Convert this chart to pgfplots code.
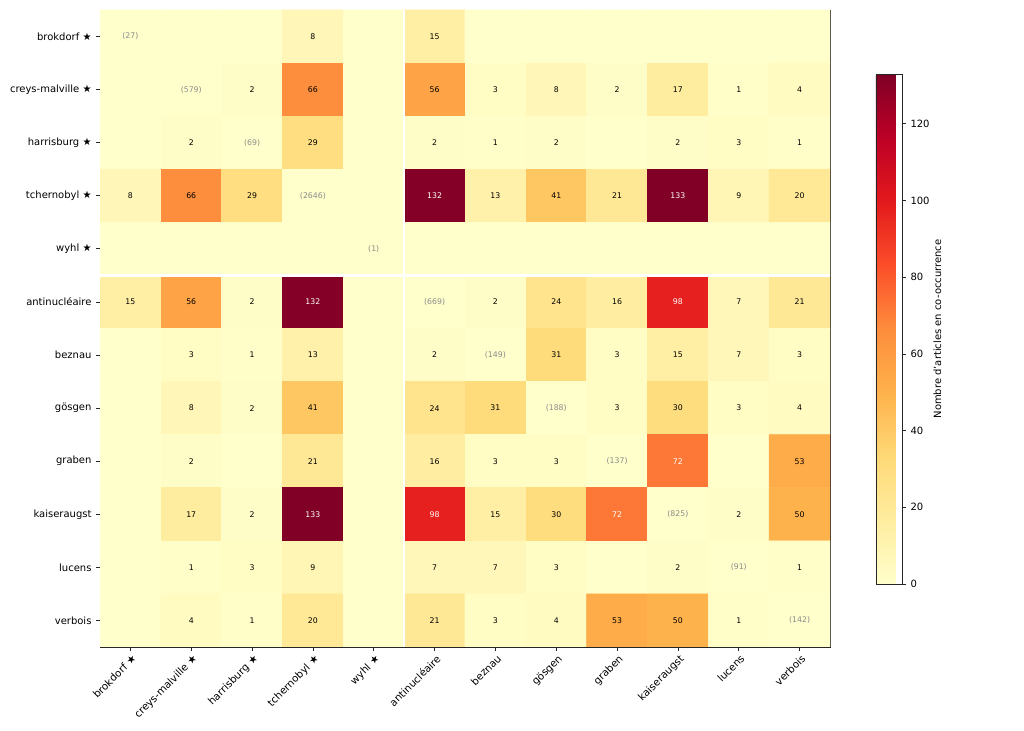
\documentclass[border=0pt]{standalone}
\usepackage{fontspec}
\setmainfont{DejaVu Sans}
\usepackage{pgfplots}
\usepackage{pgfplotstable}
\pgfplotsset{compat=1.18}

% Co-occurrence counts (diagonal cells hold 0 for the colour; their totals go in the grey labels)
\pgfplotstableread[row sep=\\]{
x y v\\
0 0 0\\ 1 0 0\\ 2 0 0\\ 3 0 8\\ 4 0 0\\ 5 0 15\\ 6 0 0\\ 7 0 0\\ 8 0 0\\ 9 0 0\\ 10 0 0\\ 11 0 0\\
0 1 0\\ 1 1 0\\ 2 1 2\\ 3 1 66\\ 4 1 0\\ 5 1 56\\ 6 1 3\\ 7 1 8\\ 8 1 2\\ 9 1 17\\ 10 1 1\\ 11 1 4\\
0 2 0\\ 1 2 2\\ 2 2 0\\ 3 2 29\\ 4 2 0\\ 5 2 2\\ 6 2 1\\ 7 2 2\\ 8 2 0\\ 9 2 2\\ 10 2 3\\ 11 2 1\\
0 3 8\\ 1 3 66\\ 2 3 29\\ 3 3 0\\ 4 3 0\\ 5 3 132\\ 6 3 13\\ 7 3 41\\ 8 3 21\\ 9 3 133\\ 10 3 9\\ 11 3 20\\
0 4 0\\ 1 4 0\\ 2 4 0\\ 3 4 0\\ 4 4 0\\ 5 4 0\\ 6 4 0\\ 7 4 0\\ 8 4 0\\ 9 4 0\\ 10 4 0\\ 11 4 0\\
0 5 15\\ 1 5 56\\ 2 5 2\\ 3 5 132\\ 4 5 0\\ 5 5 0\\ 6 5 2\\ 7 5 24\\ 8 5 16\\ 9 5 98\\ 10 5 7\\ 11 5 21\\
0 6 0\\ 1 6 3\\ 2 6 1\\ 3 6 13\\ 4 6 0\\ 5 6 2\\ 6 6 0\\ 7 6 31\\ 8 6 3\\ 9 6 15\\ 10 6 7\\ 11 6 3\\
0 7 0\\ 1 7 8\\ 2 7 2\\ 3 7 41\\ 4 7 0\\ 5 7 24\\ 6 7 31\\ 7 7 0\\ 8 7 3\\ 9 7 30\\ 10 7 3\\ 11 7 4\\
0 8 0\\ 1 8 2\\ 2 8 0\\ 3 8 21\\ 4 8 0\\ 5 8 16\\ 6 8 3\\ 7 8 3\\ 8 8 0\\ 9 8 72\\ 10 8 0\\ 11 8 53\\
0 9 0\\ 1 9 17\\ 2 9 2\\ 3 9 133\\ 4 9 0\\ 5 9 98\\ 6 9 15\\ 7 9 30\\ 8 9 72\\ 9 9 0\\ 10 9 2\\ 11 9 50\\
0 10 0\\ 1 10 1\\ 2 10 3\\ 3 10 9\\ 4 10 0\\ 5 10 7\\ 6 10 7\\ 7 10 3\\ 8 10 0\\ 9 10 2\\ 10 10 0\\ 11 10 1\\
0 11 0\\ 1 11 4\\ 2 11 1\\ 3 11 20\\ 4 11 0\\ 5 11 21\\ 6 11 3\\ 7 11 4\\ 8 11 53\\ 9 11 50\\ 10 11 1\\ 11 11 0\\
}\cells

% Labels on light cells
\pgfplotstableread[row sep=\\]{
x y t\\
3 0 8\\ 5 0 15\\
2 1 2\\ 3 1 66\\ 5 1 56\\ 6 1 3\\ 7 1 8\\ 8 1 2\\ 9 1 17\\ 10 1 1\\ 11 1 4\\
1 2 2\\ 3 2 29\\ 5 2 2\\ 6 2 1\\ 7 2 2\\ 9 2 2\\ 10 2 3\\ 11 2 1\\
0 3 8\\ 1 3 66\\ 2 3 29\\ 6 3 13\\ 7 3 41\\ 8 3 21\\ 10 3 9\\ 11 3 20\\
0 5 15\\ 1 5 56\\ 2 5 2\\ 6 5 2\\ 7 5 24\\ 8 5 16\\ 10 5 7\\ 11 5 21\\
1 6 3\\ 2 6 1\\ 3 6 13\\ 5 6 2\\ 7 6 31\\ 8 6 3\\ 9 6 15\\ 10 6 7\\ 11 6 3\\
1 7 8\\ 2 7 2\\ 3 7 41\\ 5 7 24\\ 6 7 31\\ 8 7 3\\ 9 7 30\\ 10 7 3\\ 11 7 4\\
1 8 2\\ 3 8 21\\ 5 8 16\\ 6 8 3\\ 7 8 3\\ 11 8 53\\
1 9 17\\ 2 9 2\\ 6 9 15\\ 7 9 30\\ 10 9 2\\ 11 9 50\\
1 10 1\\ 2 10 3\\ 3 10 9\\ 5 10 7\\ 6 10 7\\ 7 10 3\\ 9 10 2\\ 11 10 1\\
1 11 4\\ 2 11 1\\ 3 11 20\\ 5 11 21\\ 6 11 3\\ 7 11 4\\ 8 11 53\\ 9 11 50\\ 10 11 1\\
}\darklabels

% Labels on dark cells
\pgfplotstableread[row sep=\\]{
x y t\\
5 3 132\\ 9 3 133\\ 3 5 132\\ 9 5 98\\ 9 8 72\\ 3 9 133\\ 5 9 98\\ 8 9 72\\
}\lightlabels

% Article totals on the diagonal
\pgfplotstableread[row sep=\\]{
x y t\\
0 0 (27)\\ 1 1 (579)\\ 2 2 (69)\\ 3 3 (2646)\\ 4 4 (1)\\ 5 5 (669)\\
6 6 (149)\\ 7 7 (188)\\ 8 8 (137)\\ 9 9 (825)\\ 10 10 (91)\\ 11 11 (142)\\
}\diaglabels

\pgfplotsset{
  celllabel/.style={
    draw=none, no markers, nodes near coords, point meta=explicit symbolic,
    nodes near coords align=center,
    every node near coord/.append style={anchor=center, inner sep=0pt,
      font=\fontsize{5.6}{6.5}\selectfont, text=#1},
  },
}

\begin{document}
\begin{tikzpicture}
\useasboundingbox (0,0) rectangle (737.28pt,526.32pt);
\begin{axis}[
  at={(72pt,60.48pt)}, anchor=south west,
  scale only axis, width=525.6pt, height=458.64pt,
  xmin=-0.5, xmax=11.5, ymin=-0.5, ymax=11.5, y dir=reverse,
  axis line style={line width=0.6pt, black!85},
  tick align=outside, major tick length=2.6pt,
  tick style={line width=0.6pt, black!85},
  xtick pos=bottom, ytick pos=left,
  xtick={0,...,11}, ytick={0,...,11},
  xticklabels={brokdorf ★, creys-malville ★, harrisburg ★, tchernobyl ★, wyhl ★, antinucléaire, beznau, gösgen, graben, kaiseraugst, lucens, verbois},
  yticklabels={brokdorf ★, creys-malville ★, harrisburg ★, tchernobyl ★, wyhl ★, antinucléaire, beznau, gösgen, graben, kaiseraugst, lucens, verbois},
  xticklabel style={rotate=45, anchor=north east, font=\fontsize{7.4}{8.5}\selectfont, inner sep=1pt, xshift=0pt, yshift=-1pt},
  yticklabel style={font=\fontsize{7.2}{8.5}\selectfont},
  colormap={ylorrd}{rgb255=(255,255,204) rgb255=(255,237,160) rgb255=(254,217,118) rgb255=(254,178,76) rgb255=(253,141,60) rgb255=(252,78,42) rgb255=(227,26,28) rgb255=(189,0,38) rgb255=(128,0,38)},
  point meta min=0, point meta max=133,
  colorbar,
  colorbar style={
    at={(1.063,0.8995)}, anchor=north west,
    scale only axis, width=18.72pt, height=367.2pt,
    ytick={0,20,...,120}, ytick pos=right, xtick=\empty,
    axis line style={line width=0.6pt, black!85},
    tick align=outside, major tick length=2.6pt,
    tick style={line width=0.6pt, black!85},
    yticklabel style={font=\fontsize{7.2}{8.5}\selectfont},
    /pgf/number format/assume math mode=true,
    ylabel={Nombre d'articles en co-occurrence},
    ylabel style={font=\fontsize{7.2}{8.5}\selectfont, yshift=4pt},
  },
]
\addplot[matrix plot*, mesh/cols=12, point meta=explicit] table[x=x, y=y, meta=v] {\cells};

% separators between the two groups of terms
\addplot[white, line width=1.6pt] coordinates {(4.5,-0.5) (4.5,11.5)};
\addplot[white, line width=1.6pt] coordinates {(-0.5,4.5) (11.5,4.5)};

\addplot[celllabel=black] table[x=x, y=y, meta=t] {\darklabels};
\addplot[celllabel=white] table[x=x, y=y, meta=t] {\lightlabels};
\addplot[celllabel=black!45] table[x=x, y=y, meta=t] {\diaglabels};
\end{axis}
\end{tikzpicture}
\end{document}
